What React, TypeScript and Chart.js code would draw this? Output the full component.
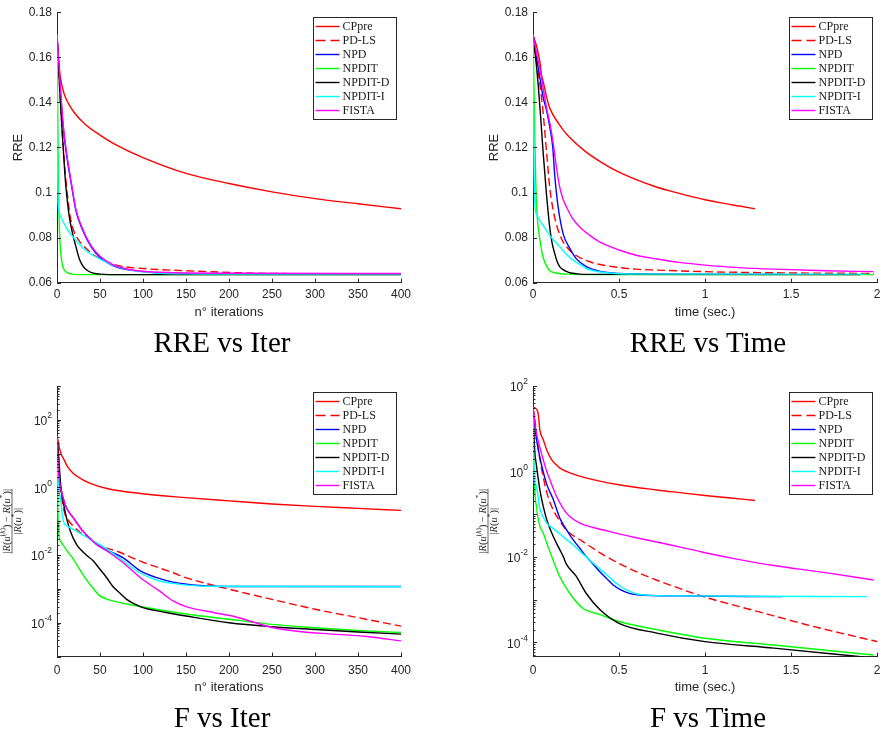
import React, { useEffect, useRef } from "react";
import { Chart, registerables } from "chart.js";
Chart.register(...registerables);

type Pt = [number, number];

// ---------- series meta ----------
const SERIES_NAMES = ["CPpre", "PD-LS", "NPD", "NPDIT", "NPDIT-D", "NPDIT-I", "FISTA"];
const SERIES_COLORS = ["#ff0000", "#ff0000", "#0000ff", "#00ff00", "#000000", "#00ffff", "#ff00ff"];
const SERIES_DASHED = [false, true, false, false, false, false, false];

// ---------- axis ticks ----------
const ITER_TICKS = { min: 0, max: 400, step: 50 };
const TIME_TICKS = { min: 0, max: 2, step: 0.5 };
const RRE_TICKS = { min: 0.06, max: 0.18, step: 0.02 };
const F_ITER_RANGE = { min: 1e-5, max: 1e3 };
const F_TIME_RANGE = { min: 4.7e-5, max: 1e2 };
const LOG_LABEL_EXPONENTS = [2, 0, -2, -4];

// ---------- RRE vs iterations ----------
const RRE_IT_CPPRE: Pt[] = [[0,0.17],[1,0.163],[2,0.158],[4,0.151],[7,0.1455],[10,0.142],[14,0.139],[20,0.1355],[32,0.1305],[50,0.1255],[67,0.1215],[100,0.1155],[150,0.1085],[200,0.104],[250,0.1003],[300,0.0973],[350,0.095],[400,0.0928]];
const RRE_IT_PDLS: Pt[] = [[0,0.17],[2,0.155],[4,0.14],[7,0.122],[10,0.107],[13,0.096],[16,0.088],[20,0.0825],[25,0.079],[33,0.0755],[46,0.0715],[69,0.0678],[100,0.0663],[150,0.0653],[205,0.0645],[250,0.0641],[300,0.064],[400,0.0639]];
const RRE_IT_NPD: Pt[] = [[0,0.17],[3,0.151],[7,0.13],[11,0.117],[17,0.103],[22,0.092],[30,0.0832],[40,0.0758],[50,0.0712],[65,0.0676],[80,0.0659],[100,0.0649],[130,0.0641],[200,0.0638],[400,0.0637]];
const RRE_IT_NPDIT: Pt[] = [[0,0.17],[1,0.13],[2,0.097],[3,0.082],[4,0.075],[6,0.0685],[8,0.066],[10,0.065],[13,0.0643],[17,0.0638],[25,0.0636],[400,0.0636]];
const RRE_IT_NPDITD: Pt[] = [[0,0.17],[3,0.147],[6,0.127],[9,0.109],[11,0.1],[14,0.09],[18,0.082],[22,0.076],[26,0.0705],[30,0.0675],[35,0.0655],[40,0.0645],[50,0.0638],[60,0.0636],[400,0.0636]];
const RRE_IT_NPDITI: Pt[] = [[0,0.17],[0.5,0.13],[1,0.1],[2,0.0925],[4,0.0895],[7,0.0872],[10,0.085],[15,0.082],[20,0.0797],[30,0.0755],[40,0.0725],[50,0.0705],[60,0.0687],[70,0.0671],[85,0.0657],[100,0.0648],[120,0.0642],[150,0.0639],[200,0.0638],[400,0.0638]];
const RRE_IT_FISTA: Pt[] = [[0,0.17],[3,0.152],[7,0.131],[11,0.118],[17,0.1035],[22,0.0925],[30,0.0836],[40,0.0762],[50,0.0717],[65,0.068],[80,0.0662],[100,0.0651],[130,0.0645],[200,0.0642],[400,0.0641]];

// ---------- RRE vs time ----------
const RRE_T_CPPRE: Pt[] = [[0,0.17],[0.02,0.165],[0.04,0.158],[0.05,0.152],[0.06,0.149],[0.08,0.142],[0.1,0.137],[0.15,0.1305],[0.2,0.1255],[0.3,0.1185],[0.4,0.1133],[0.5,0.109],[0.6,0.1057],[0.7,0.1029],[0.8,0.1006],[0.9,0.0986],[1.0,0.0968],[1.1,0.0953],[1.2,0.094],[1.29,0.0928]];
const RRE_T_PDLS: Pt[] = [[0,0.17],[0.02,0.158],[0.04,0.148],[0.058,0.136],[0.078,0.1187],[0.097,0.1025],[0.126,0.089],[0.165,0.0796],[0.2,0.0755],[0.233,0.073],[0.33,0.0693],[0.466,0.0671],[0.6,0.066],[0.72,0.0656],[1.0,0.0649],[1.4,0.0644],[1.98,0.0641]];
const RRE_T_NPD: Pt[] = [[0,0.17],[0.02,0.16],[0.04,0.151],[0.06,0.142],[0.08,0.136],[0.1,0.128],[0.115,0.12],[0.126,0.108],[0.146,0.0937],[0.175,0.0818],[0.214,0.0752],[0.25,0.0708],[0.31,0.0671],[0.39,0.065],[0.5,0.0641],[0.7,0.0638],[1.45,0.0637]];
const RRE_T_NPDIT: Pt[] = [[0,0.17],[0.005,0.15],[0.01,0.126],[0.015,0.108],[0.019,0.0966],[0.027,0.087],[0.035,0.0818],[0.045,0.0765],[0.058,0.0715],[0.07,0.0688],[0.087,0.0663],[0.1,0.0652],[0.126,0.0644],[0.16,0.064],[0.194,0.0638],[0.3,0.0636],[1.98,0.0636]];
const RRE_T_NPDITD: Pt[] = [[0,0.17],[0.015,0.16],[0.03,0.148],[0.045,0.133],[0.058,0.1187],[0.078,0.0996],[0.097,0.0848],[0.11,0.078],[0.126,0.073],[0.14,0.0695],[0.155,0.0671],[0.175,0.0658],[0.194,0.065],[0.22,0.0643],[0.25,0.064],[0.3,0.0637],[1.9,0.0636]];
const RRE_T_NPDITI: Pt[] = [[0,0.17],[0.003,0.135],[0.006,0.111],[0.012,0.0937],[0.02,0.0905],[0.039,0.0877],[0.07,0.0842],[0.097,0.081],[0.125,0.0785],[0.155,0.076],[0.19,0.073],[0.233,0.07],[0.27,0.0682],[0.31,0.0663],[0.36,0.0652],[0.427,0.0644],[0.5,0.064],[0.62,0.0638],[1.94,0.0638]];
const RRE_T_FISTA: Pt[] = [[0,0.17],[0.02,0.162],[0.04,0.155],[0.08,0.137],[0.1,0.13],[0.117,0.122],[0.135,0.112],[0.155,0.1025],[0.175,0.097],[0.194,0.0937],[0.23,0.0885],[0.27,0.0848],[0.33,0.081],[0.39,0.078],[0.5,0.0745],[0.6,0.0722],[0.72,0.0705],[0.85,0.069],[1.0,0.0678],[1.2,0.0667],[1.4,0.066],[1.7,0.0653],[1.98,0.0649]];

// ---------- F vs iterations ----------
const F_IT_CPPRE: Pt[] = [[0,32],[1,26],[3,14],[5,9.5],[7.5,7.2],[12,4.2],[19,2.6],[28,1.8],[38,1.35],[58,0.93],[100,0.65],[150,0.5],[200,0.4],[250,0.325],[300,0.275],[350,0.24],[400,0.21]];
const F_IT_PDLS: Pt[] = [[0,32],[1,8],[2,2.6],[4,0.9],[6,0.4],[9.3,0.16],[14,0.1],[19,0.071],[28,0.045],[38,0.032],[50,0.019],[69,0.0132],[97,0.0066],[135,0.003],[150,0.00214],[200,9.8e-4],[250,4.9e-4],[300,2.5e-4],[350,1.41e-4],[400,7.9e-5]];
const F_IT_NPD: Pt[] = [[0,32],[1,8],[2,2.5],[3.5,1.2],[7,0.5],[11,0.25],[19,0.126],[30,0.052],[46,0.021],[58,0.014],[77,0.0083],[97,0.0034],[116,0.00214],[135,0.00158],[166,0.00126],[205,0.00118],[400,0.00117]];
const F_IT_NPDIT: Pt[] = [[0,32],[0.5,2],[1,0.25],[2,0.042],[5,0.024],[11,0.014],[19,0.0076],[23,0.0052],[34,0.0019],[40,0.0012],[50,6.2e-4],[58,5.0e-4],[65,4.4e-4],[100,2.9e-4],[150,1.8e-4],[200,1.26e-4],[250,8.9e-5],[300,7.1e-5],[350,5.9e-5],[400,5.1e-5]];
const F_IT_NPDITD: Pt[] = [[0,32],[1.5,11.5],[4.3,1.2],[9.3,0.2],[15,0.055],[23,0.02],[30,0.0125],[35,0.0095],[42,0.0068],[50,0.0038],[58,0.0021],[65,0.00118],[73,7.5e-4],[81,4.9e-4],[90,3.6e-4],[100,2.8e-4],[127,2.0e-4],[150,1.58e-4],[200,1.0e-4],[250,7.6e-5],[300,6.3e-5],[350,5.3e-5],[400,4.6e-5]];
const F_IT_NPDITI: Pt[] = [[0,32],[1,3],[2,1.0],[4,0.5],[7.4,0.1],[12,0.072],[19,0.057],[38,0.03],[58,0.015],[77,0.0066],[96,0.003],[116,0.0018],[135,0.00145],[170,0.0012],[400,0.00115]];
const F_IT_FISTA: Pt[] = [[0,32],[1,8],[2,2.5],[3.5,1.2],[7,0.5],[11,0.25],[19,0.126],[30,0.051],[46,0.0204],[58,0.0132],[77,0.0059],[97,0.00214],[119,8.7e-4],[135,4.4e-4],[150,3.0e-4],[182,2.0e-4],[205,1.55e-4],[228,1.05e-4],[251,7.1e-5],[282,5.5e-5],[321,4.6e-5],[360,3.9e-5],[400,2.9e-5]];

// ---------- F vs time ----------
const F_T_CPPRE: Pt[] = [[0,32],[0.015,30],[0.03,23],[0.04,9.3],[0.06,5.5],[0.08,3.2],[0.109,1.86],[0.157,1.2],[0.215,0.93],[0.312,0.7],[0.5,0.49],[0.72,0.37],[0.855,0.32],[1.0,0.275],[1.15,0.24],[1.29,0.21]];
const F_T_PDLS: Pt[] = [[0,32],[0.015,12],[0.03,3.5],[0.041,1.86],[0.06,0.72],[0.088,0.25],[0.12,0.12],[0.15,0.075],[0.194,0.0427],[0.29,0.0229],[0.427,0.0102],[0.62,0.00417],[0.82,0.00204],[1.0,0.00115],[1.2,6.9e-4],[1.4,4.2e-4],[1.59,2.6e-4],[1.79,1.66e-4],[2.0,1.05e-4]];
const F_T_NPD: Pt[] = [[0,32],[0.015,8],[0.031,3.2],[0.05,1.4],[0.08,0.5],[0.118,0.22],[0.157,0.079],[0.196,0.0427],[0.234,0.0251],[0.273,0.0158],[0.312,0.01],[0.35,0.00676],[0.39,0.00447],[0.427,0.00316],[0.465,0.00224],[0.505,0.00174],[0.56,0.00141],[0.62,0.00129],[0.82,0.00123],[1.45,0.00118]];
const F_T_NPDIT: Pt[] = [[0,32],[0.005,1.5],[0.01,0.35],[0.02,0.15],[0.03,0.08],[0.041,0.051],[0.06,0.036],[0.08,0.021],[0.109,0.0102],[0.155,0.0035],[0.214,0.0014],[0.29,6.3e-4],[0.39,4.5e-4],[0.5,3.1e-4],[0.72,2.0e-4],[1.0,1.26e-4],[1.4,8.7e-5],[1.98,5.1e-5]];
const F_T_NPDITD: Pt[] = [[0,32],[0.01,3],[0.02,1.4],[0.041,0.35],[0.06,0.15],[0.08,0.074],[0.118,0.03],[0.157,0.0145],[0.176,0.0102],[0.194,0.0068],[0.25,0.0036],[0.31,0.0014],[0.39,5.8e-4],[0.5,2.8e-4],[0.72,1.66e-4],[1.0,1.05e-4],[1.4,7.4e-5],[1.92,4.6e-5]];
const F_T_NPDITI: Pt[] = [[0,32],[0.004,2],[0.008,0.63],[0.015,0.5],[0.025,0.35],[0.039,0.14],[0.06,0.085],[0.08,0.062],[0.118,0.046],[0.155,0.035],[0.2,0.0245],[0.234,0.019],[0.27,0.0138],[0.312,0.0098],[0.35,0.0071],[0.39,0.0052],[0.43,0.0038],[0.466,0.0028],[0.505,0.0021],[0.544,0.0017],[0.6,0.00138],[0.66,0.00128],[0.82,0.00123],[1.94,0.00118]];
const F_T_FISTA: Pt[] = [[0,32],[0.015,10],[0.031,5.0],[0.06,1.86],[0.08,1.0],[0.099,0.63],[0.138,0.257],[0.196,0.105],[0.273,0.062],[0.35,0.049],[0.41,0.0427],[0.5,0.0347],[0.6,0.0282],[0.72,0.0224],[0.855,0.017],[1.0,0.0126],[1.2,0.0087],[1.4,0.0063],[1.7,0.0043],[1.98,0.0029]];

// ---------- styling ----------
const AXIS_COLOR = "#262626";
const SANS = "'Liberation Sans', Arial, Helvetica, sans-serif";
const SERIF = "'Liberation Serif', 'Times New Roman', serif";

type PanelSpec = {
  left: number; top: number; w: number; h: number;
  padTop: number; padRight: number; padBottom: number;
  xRange: { min: number; max: number; step: number };
  xTitle: string; xTitlePad: number; xTickPad: number;
  log: boolean;
  yLin?: { min: number; max: number; step: number };
  yLog?: { min: number; max: number };
  series: Pt[][];
  legendTop: number;
};

const fmt = (v: any) => String(+Number(v).toFixed(2));

type Piece = [string, boolean, boolean]; // text, superscript, italic
const NUMERATOR: Piece[] = [["|",false,false],["R",false,true],["(",false,false],["u",false,true],["(",true,false],["k",true,true],[")",true,false],[")",false,false],[" \u2212 ",false,false],["R",false,true],["(",false,false],["u",false,true],["*",true,false],[")",false,false],["|",false,false]];
const DENOMINATOR: Piece[] = [["|",false,false],["R",false,true],["(",false,false],["u",false,true],["*",true,false],[")",false,false],["|",false,false]];

function piecesWidth(ctx: CanvasRenderingContext2D, pieces: Piece[], size: number) {
  let w = 0;
  for (const [t, sup, it] of pieces) {
    ctx.font = `${it ? "italic " : ""}${sup ? size * 0.7 : size}px ${SERIF}`;
    w += ctx.measureText(t).width;
  }
  return w;
}
function drawPieces(ctx: CanvasRenderingContext2D, pieces: Piece[], cx: number, base: number, size: number) {
  let x = cx - piecesWidth(ctx, pieces, size) / 2;
  for (const [t, sup, it] of pieces) {
    ctx.font = `${it ? "italic " : ""}${sup ? size * 0.7 : size}px ${SERIF}`;
    ctx.fillText(t, x, sup ? base - size * 0.4 : base);
    x += ctx.measureText(t).width;
  }
}

const decorPlugin = {
  id: "decor",
  afterDraw(chart: any) {
    const cfg = chart.options.plugins.decor;
    const { ctx, chartArea: ca } = chart;
    const xs = chart.scales.x;
    const ys = chart.scales.y;
    ctx.save();
    // inward tick marks
    ctx.strokeStyle = AXIS_COLOR;
    ctx.lineWidth = 1;
    ctx.setLineDash([]);
    ctx.beginPath();
    xs.ticks.forEach((t: any) => {
      const px = Math.round(xs.getPixelForValue(t.value)) + 0.5;
      ctx.moveTo(px, ca.bottom);
      ctx.lineTo(px, ca.bottom - 4);
    });
    if (cfg.log) {
      const lo = Math.floor(Math.log10(ys.min));
      const hi = Math.ceil(Math.log10(ys.max));
      for (let d = lo; d <= hi; d++) {
        for (let m = 1; m <= 9; m++) {
          const v = m * Math.pow(10, d);
          if (v < ys.min * 0.9999 || v > ys.max * 1.0001) continue;
          const py = Math.round(ys.getPixelForValue(v)) + 0.5;
          ctx.moveTo(ca.left, py);
          ctx.lineTo(ca.left + (m === 1 ? 4 : 2.5), py);
        }
      }
    } else {
      ys.ticks.forEach((t: any) => {
        const py = Math.round(ys.getPixelForValue(t.value)) + 0.5;
        ctx.moveTo(ca.left, py);
        ctx.lineTo(ca.left + 4, py);
      });
    }
    ctx.stroke();

    ctx.fillStyle = AXIS_COLOR;
    if (cfg.log) {
      // power-of-ten labels
      for (const e of LOG_LABEL_EXPONENTS) {
        const v = Math.pow(10, e);
        if (v < ys.min * 0.9999 || v > ys.max * 1.0001) continue;
        const py = ys.getPixelForValue(v);
        const expStr = String(e);
        ctx.font = `12px ${SANS}`;
        const wBase = ctx.measureText("10").width;
        ctx.font = `8.5px ${SANS}`;
        const wExp = ctx.measureText(expStr).width;
        const right = ca.left - 5;
        ctx.textBaseline = "middle";
        ctx.textAlign = "left";
        ctx.font = `12px ${SANS}`;
        ctx.fillText("10", right - wExp - wBase, py + 2);
        ctx.font = `8.5px ${SANS}`;
        ctx.fillText(expStr, right - wExp, py - 4);
      }
      // fraction y-title
      const size = 10.5;
      const cy = (ca.top + ca.bottom) / 2;
      const bx = ca.left - 45;
      ctx.translate(bx, cy);
      ctx.rotate(-Math.PI / 2);
      ctx.textBaseline = "alphabetic";
      ctx.textAlign = "left";
      const wn = piecesWidth(ctx, NUMERATOR, size);
      drawPieces(ctx, NUMERATOR, 0, -2.5, size);
      drawPieces(ctx, DENOMINATOR, 0, 9.3, size);
      ctx.lineWidth = 0.7;
      ctx.beginPath();
      ctx.moveTo(-wn / 2, 0);
      ctx.lineTo(wn / 2, 0);
      ctx.stroke();
      ctx.setTransform(1, 0, 0, 1, 0, 0);
    }

    // legend box
    const bw = 83, bh = 102;
    const bxl = Math.round(ca.right - 5 - bw) + 0.5;
    const byt = Math.round(ca.top + cfg.legendTop) + 0.5;
    ctx.fillStyle = "#ffffff";
    ctx.fillRect(bxl, byt, bw, bh);
    ctx.strokeStyle = "#262626";
    ctx.lineWidth = 1;
    ctx.strokeRect(bxl, byt, bw, bh);
    chart.data.datasets.forEach((ds: any, i: number) => {
      const ry = byt + 9 + i * 14;
      ctx.strokeStyle = ds.borderColor;
      ctx.lineWidth = 1.4;
      ctx.setLineDash(ds.borderDash && ds.borderDash.length ? [10, 5] : []);
      ctx.beginPath();
      ctx.moveTo(bxl + 2, ry);
      ctx.lineTo(bxl + 26, ry);
      ctx.stroke();
      ctx.setLineDash([]);
      ctx.fillStyle = "#1a1a1a";
      ctx.font = `12px ${SERIF}`;
      ctx.textAlign = "left";
      ctx.textBaseline = "middle";
      ctx.fillText(ds.label, bxl + 29, ry + 0.5);
    });
    ctx.restore();
  },
};

const PANELS: PanelSpec[] = [
  {
    left: 0, top: 0, w: 442, h: 366, padTop: 11, padRight: 41, padBottom: 43.3,
    xRange: ITER_TICKS, xTitle: "n\u00b0 iterations", xTitlePad: 2.9, xTickPad: 5,
    log: false, yLin: RRE_TICKS,
    series: [RRE_IT_CPPRE, RRE_IT_PDLS, RRE_IT_NPD, RRE_IT_NPDIT, RRE_IT_NPDITD, RRE_IT_NPDITI, RRE_IT_FISTA],
    legendTop: 5,
  },
  {
    left: 476, top: 0, w: 430, h: 366, padTop: 11, padRight: 29, padBottom: 43.3,
    xRange: TIME_TICKS, xTitle: "time (sec.)", xTitlePad: 2.9, xTickPad: 5,
    log: false, yLin: RRE_TICKS,
    series: [RRE_T_CPPRE, RRE_T_PDLS, RRE_T_NPD, RRE_T_NPDIT, RRE_T_NPDITD, RRE_T_NPDITI, RRE_T_FISTA],
    legendTop: 5,
  },
  {
    left: 0, top: 370, w: 442, h: 363, padTop: 16, padRight: 41, padBottom: 36.5,
    xRange: ITER_TICKS, xTitle: "n\u00b0 iterations", xTitlePad: 1.7, xTickPad: 7,
    log: true, yLog: F_ITER_RANGE,
    series: [F_IT_CPPRE, F_IT_PDLS, F_IT_NPD, F_IT_NPDIT, F_IT_NPDITD, F_IT_NPDITI, F_IT_FISTA],
    legendTop: 6,
  },
  {
    left: 476, top: 370, w: 430, h: 363, padTop: 16, padRight: 29, padBottom: 36.5,
    xRange: TIME_TICKS, xTitle: "time (sec.)", xTitlePad: 1.7, xTickPad: 7,
    log: true, yLog: F_TIME_RANGE,
    series: [F_T_CPPRE, F_T_PDLS, F_T_NPD, F_T_NPDIT, F_T_NPDITD, F_T_NPDITI, F_T_FISTA],
    legendTop: 6,
  },
];

const TITLES = [
  { text: "RRE vs Iter", cx: 222, top: 327.5 },
  { text: "RRE vs Time", cx: 708, top: 327.5 },
  { text: "F vs Iter", cx: 222, top: 702.5 },
  { text: "F vs Time", cx: 708, top: 702.5 },
];

function Panel({ spec }: { spec: PanelSpec }) {
  const ref = useRef<HTMLCanvasElement | null>(null);
  useEffect(() => {
    const canvas = ref.current;
    if (!canvas) return;
    const datasets = spec.series.map((pts, i) => ({
      label: SERIES_NAMES[i],
      data: pts.map(([x, y]) => ({ x, y })),
      borderColor: SERIES_COLORS[i],
      backgroundColor: SERIES_COLORS[i],
      borderWidth: 1.4,
      borderDash: SERIES_DASHED[i] ? [8, 4] : [],
      pointRadius: 0,
      pointHoverRadius: 0,
      fill: false,
      cubicInterpolationMode: "monotone" as const,
      order: SERIES_NAMES.length - i,
    }));
    const yScale: any = spec.log
      ? {
          type: "logarithmic",
          min: spec.yLog!.min,
          max: spec.yLog!.max,
          ticks: { display: false },
          grid: { display: false, drawTicks: false },
          border: { display: true, color: AXIS_COLOR, width: 1 },
          title: { display: false },
          afterFit: (s: any) => { s.width = 57; },
        }
      : {
          type: "linear",
          min: spec.yLin!.min,
          max: spec.yLin!.max,
          ticks: {
            stepSize: spec.yLin!.step,
            padding: 5,
            color: AXIS_COLOR,
            font: { family: SANS, size: 12 },
            callback: fmt,
          },
          grid: { display: false, drawTicks: false },
          border: { display: true, color: AXIS_COLOR, width: 1 },
          title: {
            display: true,
            text: "RRE",
            color: AXIS_COLOR,
            font: { family: SANS, size: 13 },
            padding: { top: 10.5, bottom: 0 },
          },
          afterFit: (s: any) => { s.width = 57; },
        };
    const chart = new Chart(canvas, {
      type: "line",
      data: { datasets },
      options: {
        responsive: false,
        animation: false,
        events: [],
        layout: { padding: { left: 0, top: spec.padTop, right: spec.padRight, bottom: spec.padBottom } },
        scales: {
          x: {
            type: "linear",
            min: spec.xRange.min,
            max: spec.xRange.max,
            ticks: {
              stepSize: spec.xRange.step,
              autoSkip: false,
              maxRotation: 0,
              padding: spec.xTickPad,
              color: AXIS_COLOR,
              font: { family: SANS, size: 12 },
              callback: fmt,
            },
            grid: { display: false, drawTicks: false },
            border: { display: true, color: AXIS_COLOR, width: 1 },
            title: {
              display: true,
              text: spec.xTitle,
              color: AXIS_COLOR,
              font: { family: SANS, size: 13 },
              padding: { top: 0, bottom: spec.xTitlePad },
            },
            afterFit: (s: any) => { s.height = 40; },
          } as any,
          y: yScale,
        },
        plugins: {
          legend: { display: false },
          tooltip: { enabled: false },
          decor: { log: spec.log, legendTop: spec.legendTop },
        } as any,
      },
      plugins: [decorPlugin],
    });
    return () => chart.destroy();
  }, [spec]);
  return (
    <canvas
      ref={ref}
      width={spec.w}
      height={spec.h}
      style={{ position: "absolute", left: spec.left, top: spec.top, width: spec.w, height: spec.h }}
    />
  );
}

export default function App() {
  return (
    <div style={{ position: "absolute", left: 0, top: 0, width: 884, height: 733, background: "#ffffff", overflow: "hidden" }}>
      {PANELS.map((p, i) => (
        <Panel key={i} spec={p} />
      ))}
      {TITLES.map((t, i) => (
        <div
          key={"t" + i}
          style={{
            position: "absolute",
            left: t.cx - 150,
            top: t.top,
            width: 300,
            textAlign: "center",
            fontFamily: SERIF,
            fontSize: 29,
            lineHeight: "29px",
            color: "#000",
            whiteSpace: "nowrap",
          }}
        >
          {t.text}
        </div>
      ))}
    </div>
  );
}
